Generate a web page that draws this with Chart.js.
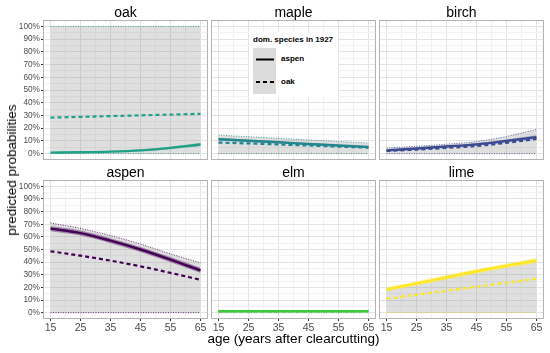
<!DOCTYPE html>
<html>
<head>
<meta charset="utf-8">
<script src="https://cdn.jsdelivr.net/npm/chart.js@4/dist/chart.umd.min.js"></script>
<style>
    body { margin: 0; background: #fff; font-family: 'Liberation Sans', Arial, sans-serif; }
    #wrap { position: relative; width: 550px; height: 353px; overflow: hidden; }
    #wrap canvas { position: absolute; left: 0; top: 0; pointer-events: none; }
    .strip { position: absolute; text-align: center; font-size: 14px; line-height: 16px; color: #000; }
    .axis-title { position: absolute; font-size: 13.5px; line-height: 16px; color: #000; white-space: nowrap; }
    .legend-text { position: absolute; font-size: 8px; line-height: 10px; font-weight: bold; color: #000; white-space: nowrap; }
</style>
</head>
<body>
<div id="wrap">
    <canvas id="c-oak" width="550" height="353"></canvas>
    <canvas id="c-maple" width="550" height="353"></canvas>
    <canvas id="c-birch" width="550" height="353"></canvas>
    <canvas id="c-aspen" width="550" height="353"></canvas>
    <canvas id="c-elm" width="550" height="353"></canvas>
    <canvas id="c-lime" width="550" height="353"></canvas>

    <!-- legend, sits inside the maple panel -->
    <div style="position:absolute; left:249px; top:32px; width:89px; height:65px; background:#fff;"></div>
    <div class="legend-text" style="left:253px; top:35px;">dom. species in 1927</div>
    <div style="position:absolute; left:253px; top:48px; width:23px; height:23px; background:#dcdcdc;"></div>
    <div style="position:absolute; left:253px; top:71px; width:23px; height:23px; background:#dcdcdc;"></div>
    <svg style="position:absolute; left:253px; top:48px;" width="23" height="46">
        <line x1="3" y1="11.5" x2="21" y2="11.5" stroke="#000" stroke-width="2"/>
        <line x1="3" y1="34" x2="21" y2="34" stroke="#000" stroke-width="2" stroke-dasharray="4,3"/>
    </svg>
    <div class="legend-text" style="left:281px; top:54px;">aspen</div>
    <div class="legend-text" style="left:281px; top:77px;">oak</div>

    <div class="axis-title" style="left:293.5px; top:331px; transform:translateX(-50%);">age (years after clearcutting)</div>
    <div class="axis-title" style="left:12px; top:169.5px; transform:translate(-50%,-50%) rotate(-90deg);">predicted probabilities</div>
</div>

<script>
// x positions (years after clearcutting)
const ages = [15, 25, 35, 45, 55, 65];
const xTickVals = [15, 20, 25, 30, 35, 40, 45, 50, 55, 60, 65];
const yTickVals = [0, 5, 10, 15, 20, 25, 30, 35, 40, 45, 50, 55, 60, 65, 70, 75, 80, 85, 90, 95, 100];
const zeroLine = [0, 0, 0, 0, 0, 0];

// oak
const oakAspen = [0.8, 1.1, 1.6, 2.6, 4.5, 7.2];
const oakAspenLo = [0.4, 0.7, 1.1, 1.9, 3.5, 5.8];
const oakAspenHi = [1.2, 1.5, 2.1, 3.3, 5.5, 8.6];
const oakOak = [28.3, 28.9, 29.5, 30.1, 30.7, 31.3];
const oakUpper = [100, 100, 100, 100, 100, 100];

// maple
const mapleAspen = [11.3, 10.1, 8.9, 7.6, 6.4, 5.2];
const mapleAspenLo = [10.3, 9.2, 8.1, 6.9, 5.8, 4.6];
const mapleAspenHi = [12.3, 11.0, 9.7, 8.3, 7.0, 5.8];
const mapleOak = [8.7, 8.0, 7.2, 6.4, 5.5, 4.7];
const mapleUpper = [14.5, 13.3, 12.0, 10.8, 9.6, 8.4];

// birch
const birchAspen = [2.6, 4.0, 5.6, 7.3, 10.0, 13.0];
const birchAspenLo = [2.0, 3.3, 4.8, 6.4, 8.8, 11.5];
const birchAspenHi = [3.2, 4.7, 6.4, 8.2, 11.2, 14.5];
const birchOak = [2.1, 3.2, 4.5, 6.0, 8.5, 11.5];
const birchUpper = [4.5, 5.8, 7.4, 9.5, 13.5, 19.0];

// aspen
const aspenAspen = [66.5, 63.0, 57.0, 50.0, 42.0, 33.5];
const aspenAspenLo = [64.5, 61.0, 55.0, 48.0, 40.0, 31.5];
const aspenAspenHi = [68.5, 65.0, 59.0, 52.0, 44.0, 35.5];
const aspenOak = [48.6, 45.1, 41.2, 36.7, 31.5, 26.0];
const aspenUpper = [71.0, 66.7, 61.0, 54.3, 46.5, 39.5];

// elm
const elmAspen = [1.2, 1.2, 1.2, 1.2, 1.2, 1.2];
const elmAspenLo = [0.9, 0.9, 0.9, 0.9, 0.9, 0.9];
const elmAspenHi = [1.5, 1.5, 1.5, 1.5, 1.5, 1.5];
const elmOak = [1.1, 1.1, 1.1, 1.1, 1.1, 1.1];
const elmUpper = [1.7, 1.7, 1.7, 1.7, 1.7, 1.7];

// lime
const limeAspen = [18.5, 23.2, 28.0, 32.8, 37.2, 41.3];
const limeAspenLo = [16.8, 21.5, 26.3, 31.0, 35.4, 39.3];
const limeAspenHi = [20.2, 24.9, 29.7, 34.5, 39.0, 43.3];
const limeOak = [11.0, 14.2, 17.4, 20.5, 23.7, 26.8];
const limeUpper = [17.5, 22.0, 26.8, 31.5, 36.0, 40.0];

const panels = [
    { key: 'oak', left: 43, top: 20, right: 208, bottom: 160, showY: true, showX: false, color: '#1fa187',
      aspen: oakAspen, lo: oakAspenLo, hi: oakAspenHi, oak: oakOak, upper: oakUpper },
    { key: 'maple', left: 211, top: 20, right: 376, bottom: 160, showY: false, showX: false, color: '#23858e',
      aspen: mapleAspen, lo: mapleAspenLo, hi: mapleAspenHi, oak: mapleOak, upper: mapleUpper },
    { key: 'birch', left: 379, top: 20, right: 544, bottom: 160, showY: false, showX: false, color: '#3b4a92',
      aspen: birchAspen, lo: birchAspenLo, hi: birchAspenHi, oak: birchOak, upper: birchUpper },
    { key: 'aspen', left: 43, top: 180, right: 208, bottom: 319, showY: true, showX: true, color: '#440154',
      aspen: aspenAspen, lo: aspenAspenLo, hi: aspenAspenHi, oak: aspenOak, upper: aspenUpper },
    { key: 'elm', left: 211, top: 180, right: 376, bottom: 319, showY: false, showX: true, color: '#3cc93c',
      aspen: elmAspen, lo: elmAspenLo, hi: elmAspenHi, oak: elmOak, upper: elmUpper },
    { key: 'lime', left: 379, top: 180, right: 544, bottom: 319, showY: false, showX: true, color: '#fde725',
      aspen: limeAspen, lo: limeAspenLo, hi: limeAspenHi, oak: limeOak, upper: limeUpper }
];

const Y_AXIS_W = 43;
const X_AXIS_H = 20;

function pts(arr) {
    return ages.map((a, i) => ({ x: a, y: arr[i] }));
}

// grey panel frame like ggplot's panel.border
const panelBorder = {
    id: 'panelBorder',
    afterDraw(chart) {
        const { ctx, chartArea: a } = chart;
        ctx.save();
        ctx.strokeStyle = '#b3b3b3';
        ctx.lineWidth = 1;
        ctx.strokeRect(Math.round(a.left) + 0.5, Math.round(a.top) + 0.5,
            Math.round(a.right - a.left) - 1, Math.round(a.bottom - a.top) - 1);
        ctx.restore();
    }
};

function createPanel(p) {
    const wrap = document.getElementById('wrap');
    const strip = document.createElement('div');
    strip.className = 'strip';
    strip.style.left = p.left + 'px';
    strip.style.width = (p.right - p.left) + 'px';
    strip.style.top = (p.top - 16.5) + 'px';
    strip.innerText = p.key;
    wrap.appendChild(strip);

    const ctx = document.getElementById('c-' + p.key).getContext('2d');
    return new Chart(ctx, {
        type: 'line',
        data: {
            datasets: [
                { data: pts(p.aspen), borderColor: p.color, borderWidth: 2.4, order: 0 },
                { data: pts(p.hi), borderWidth: 0, backgroundColor: p.color + '66', fill: '+1', order: 1 },
                { data: pts(p.lo), borderWidth: 0, order: 2 },
                { data: pts(p.oak), borderColor: p.color, borderWidth: 2.2, borderDash: [4, 3], order: 3 },
                { data: pts(p.upper), borderColor: p.color, borderWidth: 0.8, borderDash: [1, 1.5],
                  fill: 'origin', backgroundColor: 'rgba(110, 110, 110, 0.22)', order: 4 },
                { data: pts(zeroLine), borderColor: p.color, borderWidth: 0.8, borderDash: [1, 1.5], order: 5 }
            ]
        },
        options: {
            responsive: false,
            animation: false,
            devicePixelRatio: 1,
            layout: {
                padding: {
                    left: p.showY ? p.left - Y_AXIS_W : p.left,
                    right: 550 - p.right,
                    top: p.top,
                    bottom: 353 - p.bottom - (p.showX ? X_AXIS_H : 0)
                }
            },
            elements: {
                point: { radius: 0 },
                line: { cubicInterpolationMode: 'monotone' }
            },
            plugins: { legend: { display: false }, tooltip: { enabled: false } },
            scales: {
                x: {
                    type: 'linear', min: 12.5, max: 67.5,
                    afterBuildTicks: s => { s.ticks = xTickVals.map(v => ({ value: v })); },
                    afterFit: s => { s.height = p.showX ? X_AXIS_H : 0; },
                    border: { display: false },
                    grid: {
                        color: c => ((c.tick.value - 15) % 10 === 0 ? '#e4e4e4' : '#f2f2f2'),
                        drawTicks: p.showX, tickLength: 2,
                        tickColor: c => ((c.tick.value - 15) % 10 === 0 ? '#333333' : 'rgba(0,0,0,0)')
                    },
                    ticks: {
                        display: p.showX, autoSkip: false, maxRotation: 0, padding: 1,
                        color: '#4d4d4d', font: { family: "'Liberation Sans', Arial", size: 10.5 },
                        callback: v => ((v - 15) % 10 === 0 ? String(v) : '')
                    }
                },
                y: {
                    min: -5, max: 105,
                    afterBuildTicks: s => { s.ticks = yTickVals.map(v => ({ value: v })); },
                    afterFit: s => { s.width = p.showY ? Y_AXIS_W : 0; },
                    border: { display: false },
                    grid: {
                        color: c => (c.tick.value % 10 === 0 ? '#e4e4e4' : '#f2f2f2'),
                        drawTicks: p.showY, tickLength: 2,
                        tickColor: c => (c.tick.value % 10 === 0 ? '#333333' : 'rgba(0,0,0,0)')
                    },
                    ticks: {
                        display: p.showY, autoSkip: false, padding: 1,
                        color: '#4d4d4d', font: { family: "'Liberation Sans', Arial", size: 8.3 },
                        callback: v => (v % 10 === 0 ? v + '%' : '')
                    }
                }
            }
        },
        plugins: [panelBorder]
    });
}

panels.forEach(createPanel);
</script>
</body>
</html>
